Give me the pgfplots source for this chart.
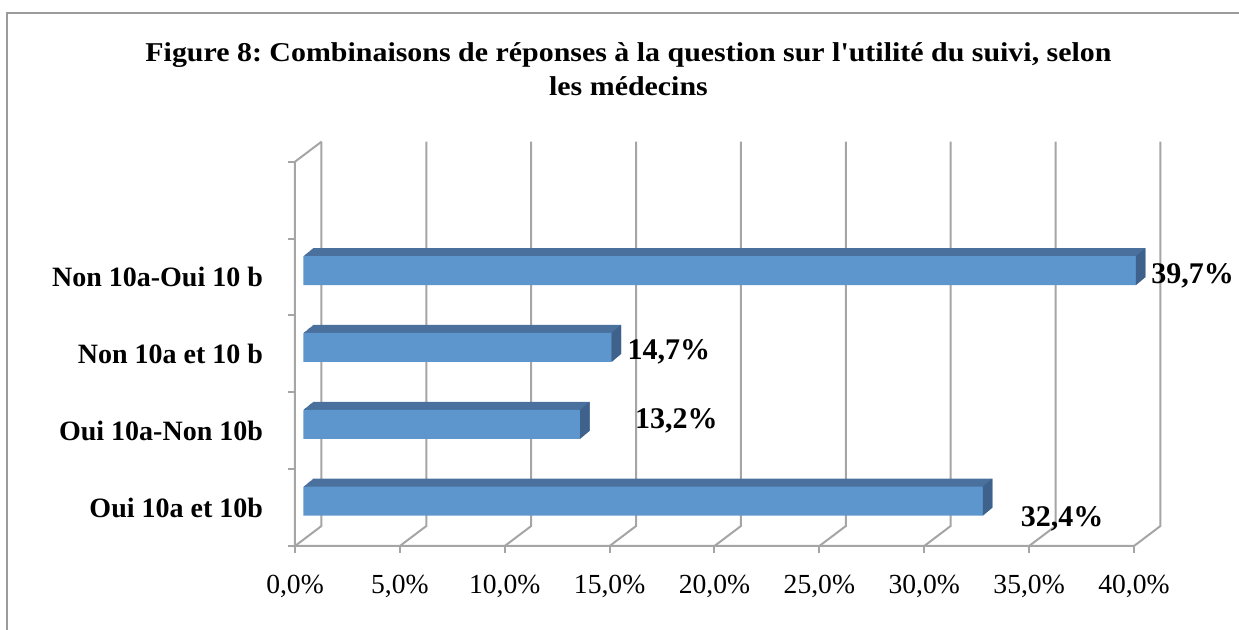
\documentclass[border=0pt]{standalone}
\usepackage{pgfplots}
\pgfplotsset{compat=1.18}
\usepackage{pgfplotstable}
\usepackage{fontspec}
\setmainfont{Liberation Serif}
\newfontfamily\titlefont[FakeStretch=1.1]{Liberation Serif}
\definecolor{frontc}{RGB}{92,150,204}
\definecolor{topc}{RGB}{74,112,158}
\definecolor{sidec}{RGB}{62,98,140}
\definecolor{gridc}{RGB}{165,165,165}
\definecolor{borderc}{RGB}{155,155,155}

\pgfdeclareplotmark{sideface}{%
  \pgfpathmoveto{\pgfpoint{0pt}{-7.25pt}}%
  \pgfpathlineto{\pgfpoint{0pt}{7.25pt}}%
  \pgfpathlineto{\pgfpoint{4.75pt}{11.25pt}}%
  \pgfpathlineto{\pgfpoint{4.75pt}{-3.25pt}}%
  \pgfpathclose\pgfusepathqfill}

\pgfplotstableread{
y v
0 32.4
1 13.2
2 14.7
3 39.7
}\bars

\pgfplotstableread{
lx ly v
36.57 -0.24 32.4
18.18 1.031 13.2
17.83 1.92 14.7
42.80 2.918 39.7
}\labs

\begin{document}
\frenchspacing
\begin{tikzpicture}
\useasboundingbox (0,0) rectangle (619.5pt,315pt);
\draw[borderc, line width=1pt] (3.25pt,-2pt) -- (3.25pt,308.5pt) -- (625pt,308.5pt);
\node[anchor=base, font=\titlefont\bfseries\fontsize{13.6}{17}\selectfont] at (314.25pt,284.15pt)
  {Figure 8: Combinaisons de réponses à la question sur l{\char"27}utilité du suivi, selon};
\node[anchor=base, font=\titlefont\bfseries\fontsize{13.6}{17}\selectfont] at (314.25pt,267pt)
  {les médecins};
\begin{axis}[
  at={(147.5pt,42pt)}, anchor=south west,
  scale only axis, width=419.5pt, height=192.15pt,
  xmin=0, xmax=40, ymin=-0.5, ymax=4.5,
  clip=false,
  axis line style={draw=none},
  major tick length=0pt, minor tick length=0pt,
  xtick={0,5,...,40},
  xticklabels={{0,0\%},{5,0\%},{10,0\%},{15,0\%},{20,0\%},{25,0\%},{30,0\%},{35,0\%},{40,0\%}},
  ytick={0,1,2,3},
  yticklabels={Oui 10a et 10b,Oui 10a-Non 10b,Non 10a et 10 b,Non 10a-Oui 10 b},
  xticklabel style={anchor=center, yshift=-20pt, font=\fontsize{13.8}{15}\selectfont},
  yticklabel style={anchor=east, xshift=-12.5pt, font=\bfseries\fontsize{14}{16}\selectfont},
]
% walls and floor
\pgfplotsinvokeforeach{0,5,...,40}{
  \draw[gridc, line width=1pt] (axis cs:#1,-0.5) -- ([shift={(13.25pt,10pt)}]axis cs:#1,-0.5) -- ([shift={(13.25pt,10pt)}]axis cs:#1,4.5);
  \draw[gridc, line width=1pt] (axis cs:#1,-0.5) -- ([yshift=-3.5pt]axis cs:#1,-0.5);
}
\draw[gridc, line width=1pt] (axis cs:40,-0.5) -- (axis cs:0,-0.5) -- (axis cs:0,4.5) -- ([shift={(13.25pt,10pt)}]axis cs:0,4.5);
\pgfplotsinvokeforeach{-0.5,0.5,...,4.5}{
  \draw[gridc, line width=1pt] (axis cs:0,#1) -- ([xshift=-3.5pt]axis cs:0,#1);
}
% bar depth (top face)
\pgfplotsinvokeforeach{1,...,10}{
  \addplot[xbar, bar width=14.5pt, bar shift=0pt, fill=topc, draw=none, forget plot,
    xshift={4.15pt+#1*0.475pt}, yshift={3.2pt+#1*0.4pt}] table[x=v,y=y]{\bars};
}
% side face
\addplot[only marks, mark=sideface, sidec, xshift=4.15pt, yshift=3.2pt, forget plot] table[x=v,y=y]{\bars};
% front face
\addplot[xbar, bar width=14.5pt, bar shift=0pt, fill=frontc, draw=none, forget plot,
  xshift=4.15pt, yshift=3.2pt] table[x=v,y=y]{\bars};
% value labels
\addplot[draw=none, mark=none, forget plot, point meta=explicit,
  nodes near coords={\pgfmathprintnumber[fixed,fixed zerofill,precision=1,use comma,assume math mode=true]{\pgfplotspointmeta}\%},
  every node near coord/.append style={anchor=base, inner sep=0pt, text=black, font=\bfseries\fontsize{15}{17}\selectfont}]
  table[x=lx,y=ly,meta=v]{\labs};
\end{axis}
\end{tikzpicture}
\end{document}
